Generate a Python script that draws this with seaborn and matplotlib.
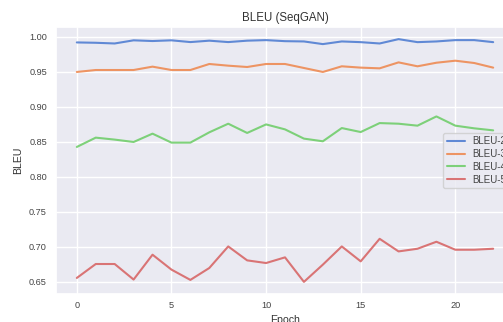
import matplotlib
matplotlib.use("Agg")
import matplotlib.pyplot as plt
import seaborn as sns
import pandas as pd

epochs = list(range(23))
bleu2 = [0.992, 0.9915, 0.9905, 0.995, 0.994, 0.995, 0.9925, 0.9945, 0.9925, 0.9945, 0.9953, 0.9938, 0.9934,
         0.9896, 0.9934, 0.9924, 0.9905, 0.9967, 0.9924, 0.9934, 0.9953, 0.9953, 0.9924]
bleu3 = [0.9498, 0.9526, 0.9526, 0.9526, 0.9574, 0.9526, 0.9526, 0.9612, 0.9588, 0.9569, 0.9612, 0.9612, 0.9555,
         0.9498, 0.9579, 0.956, 0.955, 0.9635, 0.9579, 0.963, 0.9659, 0.9626, 0.956]
bleu4 = [0.8427, 0.856, 0.8532, 0.8498, 0.8617, 0.8489, 0.8489, 0.8636, 0.8759, 0.8627, 0.8749, 0.8678, 0.8546,
         0.8508, 0.8697, 0.864, 0.8768, 0.8759, 0.8731, 0.8863, 0.8731, 0.8693, 0.8664]
bleu5 = [0.6556, 0.6755, 0.6755, 0.6533, 0.6888, 0.6675, 0.6528, 0.6698, 0.7006, 0.6807, 0.6769, 0.685, 0.650,
         0.6746, 0.7006, 0.6793, 0.7115, 0.6935, 0.6973, 0.7073, 0.6959, 0.6959, 0.6973]
series_names = ["BLEU-2", "BLEU-3", "BLEU-4", "BLEU-5"]

sns.set_theme(style="darkgrid", palette="muted")
plt.rcParams["font.family"] = ["Liberation Sans", "DejaVu Sans"]

rows = []
for name, vals in zip(series_names, [bleu2, bleu3, bleu4, bleu5]):
    for e, v in zip(epochs, vals):
        rows.append({"Epoch": e, "BLEU": v, "metric": name})
df = pd.DataFrame(rows)

fig = plt.figure(figsize=(5.03, 3.22), dpi=100)
ax = fig.add_axes([56 / 503, 28 / 322, 458 / 503, 267 / 322])
sns.lineplot(data=df, x="Epoch", y="BLEU", hue="metric", ax=ax, linewidth=1.5, alpha=0.85)
ax.set_title("BLEU (SeqGAN)", fontsize=8.3, pad=4, color="#333333")
ax.set_xlabel("Epoch", fontsize=7.6, labelpad=4.2, color="#333333")
ax.set_ylabel("BLEU", fontsize=7.6, labelpad=4, color="#333333")
ax.tick_params(axis="both", labelsize=6.6, length=0, labelcolor="#444444")
ax.tick_params(axis="x", pad=4.7)
ax.tick_params(axis="y", pad=6.5)
ax.set_xticks([0, 5, 10, 15, 20])
leg = ax.legend(loc="center right", fontsize=7, labelspacing=0.28, borderpad=0.35,
                handlelength=1.9, handletextpad=0.7)
for t in leg.get_texts():
    t.set_color("#444444")
fig.savefig("out.png", dpi=100)
